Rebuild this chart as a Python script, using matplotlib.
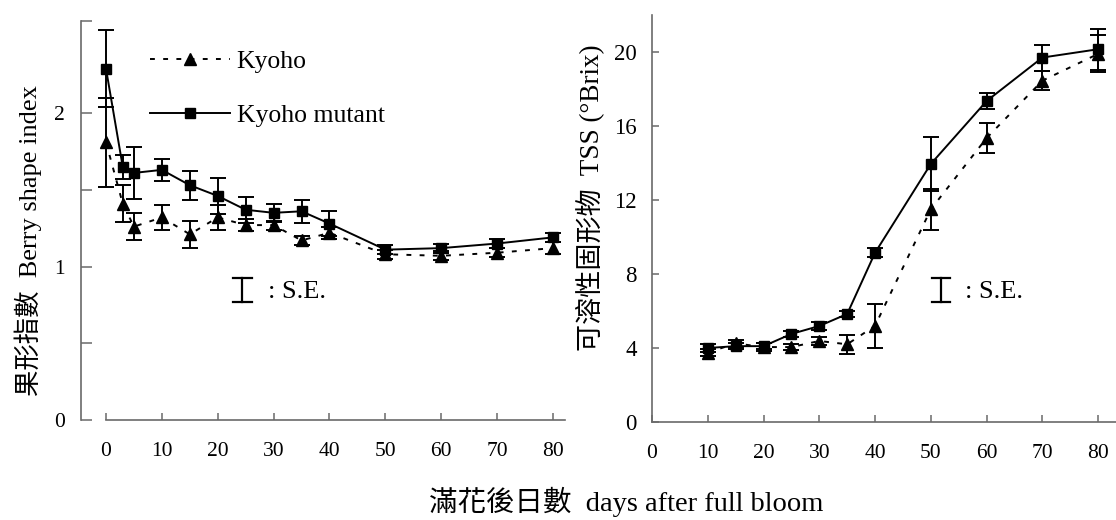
import matplotlib
matplotlib.use('Agg')
import matplotlib.pyplot as plt
from matplotlib.lines import Line2D

# ---------------- data ----------------
days_shape = [0, 3, 5, 10, 15, 20, 25, 30, 35, 40, 50, 60, 70, 80]
kyoho_shape = [1.81, 1.41, 1.26, 1.32, 1.21, 1.32, 1.27, 1.27, 1.17, 1.22, 1.08, 1.07, 1.09, 1.12]
kyoho_shape_se = [0.29, 0.12, 0.09, 0.08, 0.09, 0.08, 0.04, 0.03, 0.03, 0.04, 0.03, 0.03, 0.03, 0.04]
mutant_shape = [2.29, 1.65, 1.61, 1.63, 1.53, 1.46, 1.37, 1.35, 1.36, 1.28, 1.11, 1.12, 1.15, 1.19]
mutant_shape_se = [0.25, 0.08, 0.17, 0.07, 0.095, 0.12, 0.085, 0.06, 0.075, 0.08, 0.03, 0.03, 0.03, 0.03]

days_tss = [10, 15, 20, 25, 30, 35, 40, 50, 60, 70, 80]
kyoho_tss = [3.75, 4.25, 4.05, 4.05, 4.38, 4.2, 5.2, 11.5, 15.35, 18.45, 19.9]
kyoho_tss_se = [0.2, 0.2, 0.2, 0.15, 0.2, 0.5, 1.2, 1.1, 0.8, 0.5, 1.0]
mutant_tss = [4.0, 4.1, 4.1, 4.76, 5.19, 5.84, 9.15, 13.95, 17.35, 19.7, 20.15]
mutant_tss_se = [0.2, 0.15, 0.15, 0.15, 0.2, 0.15, 0.25, 1.45, 0.45, 0.7, 1.1]

x_ticks = [0, 10, 20, 30, 40, 50, 60, 70, 80]
shape_ticks = [0, 0.5, 1, 1.5, 2, 2.6]
shape_ticklabels = ['0', '', '1', '', '2', '']
tss_ticks = [0, 4, 8, 12, 16, 20]

series_names = ['Kyoho', 'Kyoho mutant']
ylabel_left = '果形指數  Berry shape index'
ylabel_right = '可溶性固形物  TSS (°Brix)'
xlabel = '滿花後日數  days after full bloom'
se_text = ': S.E.'

# ---------------- style ----------------
plt.rcParams['font.family'] = ['Liberation Serif', 'Noto Sans CJK TC']
plt.rcParams['lines.scale_dashes'] = False

W, H = 1116, 520
fig = plt.figure(figsize=(W / 100, H / 100), dpi=100)


def fx(px):
    return px / W


def fy(py):
    return 1 - py / H


spine_c = '#6a6a6a'
axL = fig.add_axes([fx(81), fy(420), fx(565) - fx(81), fy(21) - fy(420)])
axR = fig.add_axes([fx(652), fy(422), 1 - fx(652), fy(15) - fy(422)])

dash = (0, (3.5, 6))
line_kw = dict(color='black', lw=1.4)
err_kw = dict(fmt='none', ecolor='black', elinewidth=1.4, capsize=6, capthick=1.4)

for ax, d, k, kse, m, mse in [
    (axL, days_shape, kyoho_shape, kyoho_shape_se, mutant_shape, mutant_shape_se),
    (axR, days_tss, kyoho_tss, kyoho_tss_se, mutant_tss, mutant_tss_se),
]:
    ax.errorbar(d, k, yerr=kse, **err_kw)
    ax.errorbar(d, m, yerr=mse, **err_kw)
    hk, = ax.plot(d, k, linestyle=dash, marker='^', ms=9, mfc='black', mec='black', **line_kw)
    hm, = ax.plot(d, m, linestyle='-', marker='s', ms=7.8, mfc='black', mec='black', **line_kw)
    for s in ['top', 'right']:
        ax.spines[s].set_visible(False)
    for s in ['left', 'bottom']:
        ax.spines[s].set_color(spine_c)
        ax.spines[s].set_linewidth(1.2)
    ax.set_xticks(x_ticks)
    ax.set_xticklabels([str(t) for t in x_ticks])
    ax.tick_params(axis='x', direction='in', length=5, width=1.1, color=spine_c,
                   labelsize=15.5, pad=16)

# left panel
axL.set_xlim(-4.47, 82.15)
axL.set_ylim(0, 2.6)
axL.spines['bottom'].set_bounds(0, 82.15)
axL.set_yticks(shape_ticks)
axL.set_yticklabels(shape_ticklabels)
axL.tick_params(axis='y', direction='in', length=8, width=1.1, color=spine_c,
                labelsize=15.5, pad=11.5)

# right panel
axR.set_xlim(0, 83.2)
axR.set_ylim(0, 22)
axR.set_yticks(tss_ticks)
axR.set_yticklabels([str(t) for t in tss_ticks])
axR.tick_params(axis='y', direction='in', length=5, width=1.1, color=spine_c,
                labelsize=16.5, pad=11)

# legend
axL.legend(handles=[hk, hm], labels=series_names, loc='center left',
           bbox_to_anchor=(fx(150), fy(88.5)), bbox_transform=fig.transFigure,
           frameon=False, fontsize=18.5, handlelength=3.1, handletextpad=0.27,
           labelspacing=1.17, borderpad=0, borderaxespad=0)

# S.E. keys
for cx, tx in [(242, 268), (941, 965)]:
    fig.add_artist(Line2D([fx(cx), fx(cx)], [fy(278), fy(302)], color='black', lw=1.6))
    for yy in (278, 302):
        fig.add_artist(Line2D([fx(cx - 9.5), fx(cx + 9.5)], [fy(yy), fy(yy)], color='black', lw=1.6))
    fig.text(fx(tx), fy(292), se_text, fontsize=19, va='center', ha='left')

# axis labels
fig.text(fx(28), fy(241), ylabel_left, rotation=90, fontsize=19, ha='center', va='center')
fig.text(fx(590), fy(198), ylabel_right, rotation=90, fontsize=19.5, ha='center', va='center')
fig.text(fx(626), fy(502), xlabel, fontsize=20.5, ha='center', va='center')

fig.savefig('out.png', dpi=100)
